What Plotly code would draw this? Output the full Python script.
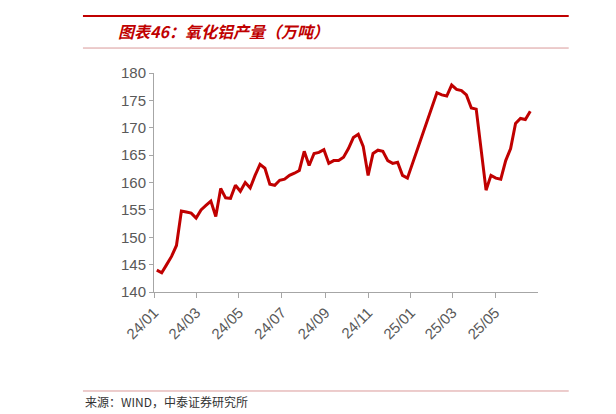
import plotly.graph_objects as go
import pandas as pd

vals_2024 = [144,143.5,145,146.5,148.5,154.8,154.6,154.4,153.5,155,155.8,156.6,153.8,158.9,157.2,157.1,
             159.5,158.4,160,159,161.3,163.3,162.6,159.7,159.5,160.4,160.6,161.3,161.7,162.2,165.7,163.1,
             165.3,165.5,166,163.5,164,164,164.6,166.2,168.2,168.8,166.6,161.3,165.3,165.9,165.7,164,
             163.5,163.7,161.3,160.8]
vals_2025 = [176.4,176,175.8,177.8,177,176.8,176,173.6,173.4,166,158.6,161.3,160.8,160.6,164,166.2,
             170.8,171.7,171.5,173]
dates = list(pd.date_range("2024-01-05", periods=len(vals_2024), freq="7D")) + \
        list(pd.date_range("2025-02-07", periods=len(vals_2025), freq="7D"))
values = vals_2024 + vals_2025
tick_vals = ["2024-01-01","2024-03-01","2024-05-01","2024-07-01","2024-09-01","2024-11-01",
             "2025-01-01","2025-03-01","2025-05-01"]
tick_text = ["24/01","24/03","24/05","24/07","24/09","24/11","25/01","25/03","25/05"]

fig = go.Figure(go.Scatter(x=dates, y=values, mode="lines",
                           line=dict(color="#C00000", width=3)))
fig.update_layout(
    width=616, height=414, plot_bgcolor="white", paper_bgcolor="white",
    margin=dict(l=146, r=86, t=65, b=130), showlegend=False,
    font=dict(family="Liberation Sans", color="#595959"),
    xaxis=dict(range=["2024-01-01","2025-07-01"], tickvals=tick_vals, ticktext=tick_text,
               tickangle=-45, showgrid=False, showline=True, linecolor="#A6A6A6",
               ticks="outside", tickcolor="#A6A6A6", ticklen=5, tickfont=dict(size=15)),
    yaxis=dict(range=[140,180], dtick=5, showgrid=False, showline=True, linecolor="#A6A6A6",
               ticks="outside", tickcolor="#A6A6A6", ticklen=4, tickfont=dict(size=15)),
    shapes=[
        dict(type="line", xref="paper", yref="paper", x0=-0.185, x1=1.08, y0=1.26, y1=1.26,
             line=dict(color="#C00000", width=2)),
        dict(type="line", xref="paper", yref="paper", x0=-0.185, x1=1.08, y0=1.114, y1=1.114,
             line=dict(color="#D08080", width=0.8)),
        dict(type="line", xref="paper", yref="paper", x0=-0.185, x1=1.08, y0=-0.452, y1=-0.452,
             line=dict(color="#D08080", width=0.8)),
    ],
    annotations=[
        dict(text="<b><i>图表46：氧化铝产量（万吨）</i></b>", xref="paper", yref="paper",
             x=-0.10, y=1.19, xanchor="left", yanchor="middle", showarrow=False,
             font=dict(family="Noto Sans CJK SC", size=16, color="#C00000")),
        dict(text="来源：WIND，中泰证券研究所", xref="paper", yref="paper",
             x=-0.185, y=-0.498, xanchor="left", yanchor="middle", showarrow=False,
             font=dict(family="Noto Sans CJK SC", size=12, color="#333333")),
    ],
)
fig.write_html("out.html")
